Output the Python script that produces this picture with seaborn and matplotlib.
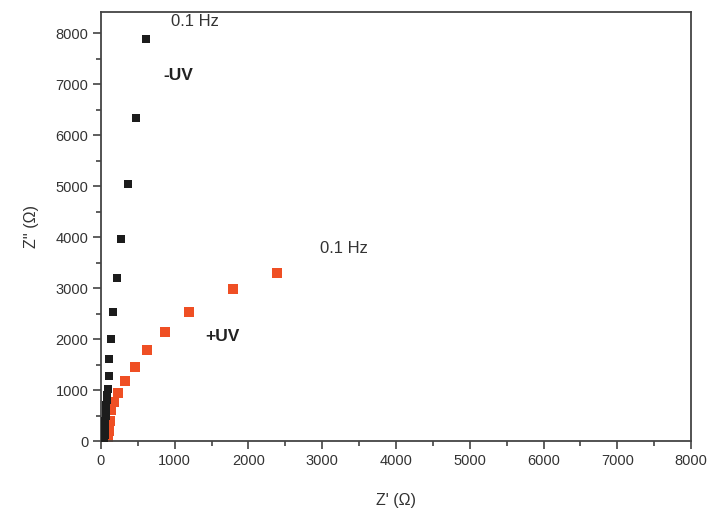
import pandas as pd
import matplotlib.pyplot as plt
import seaborn as sns
from matplotlib.ticker import MultipleLocator

# Nyquist data (Z' , Z'' in ohm)
zre_dark = [610, 475, 362, 276, 217, 167, 136, 113, 104, 92, 80, 76, 72, 68, 64, 60, 56, 52, 48, 45, 42]
zim_dark = [7880, 6333, 5044, 3970, 3197, 2541, 1998, 1605, 1271, 1015, 900, 800, 700, 600, 500, 400, 300, 200, 120, 60, 20]

zre_uv = [2382, 1786, 1189, 863, 620, 466, 321, 231, 176, 140, 122, 104, 90]
zim_uv = [3294, 2973, 2541, 2135, 1794, 1454, 1179, 943, 766, 603, 393, 196, 30]

sns.set_theme(style='white')
plt.rcParams['font.family'] = ['Liberation Sans', 'DejaVu Sans']

df_dark = pd.DataFrame({'x': zre_dark, 'y': zim_dark})
df_uv = pd.DataFrame({'x': zre_uv, 'y': zim_uv})

fig = plt.figure(figsize=(7.11, 5.17), dpi=100)
ax = fig.add_axes([0.142, 0.147, 0.830, 0.830])

sns.scatterplot(data=df_uv, x='x', y='y', marker='s', s=42, color='#ef4f24',
                linewidth=0, ax=ax, zorder=2)
sns.scatterplot(data=df_dark, x='x', y='y', marker='s', s=36, color='#1c1c1c',
                linewidth=0, ax=ax, zorder=3)

ax.set_xlim(0, 8000)
ax.set_ylim(0, 8420)
ax.xaxis.set_major_locator(MultipleLocator(1000))
ax.xaxis.set_minor_locator(MultipleLocator(500))
ax.yaxis.set_major_locator(MultipleLocator(1000))
ax.yaxis.set_minor_locator(MultipleLocator(500))
ax.tick_params(which='major', direction='out', length=6, width=1.1, color='#333333',
               labelsize=10.5, labelcolor='#333333', bottom=True, left=True, pad=3)
ax.tick_params(which='minor', direction='out', length=3.5, width=1.1, color='#333333',
               bottom=True, left=True)
for sp in ax.spines.values():
    sp.set_visible(True)
    sp.set_color('#444444')
    sp.set_linewidth(1.3)

ax.set_xlabel("Z' (Ω)", fontsize=11.5, color='#333333', labelpad=18)
ax.set_ylabel("Z'' (Ω)", fontsize=11.5, color='#333333', labelpad=12)

ax.text(1275, 8230, '0.1 Hz', fontsize=12, color='#333333', ha='center', va='center')
ax.text(1050, 7170, '-UV', fontsize=12.5, fontweight='bold', color='#222222', ha='center', va='center')
ax.text(3290, 3770, '0.1 Hz', fontsize=12, color='#333333', ha='center', va='center')
ax.text(1640, 2050, '+UV', fontsize=12.5, fontweight='bold', color='#222222', ha='center', va='center')

plt.savefig('out.png', dpi=100)
plt.close()
